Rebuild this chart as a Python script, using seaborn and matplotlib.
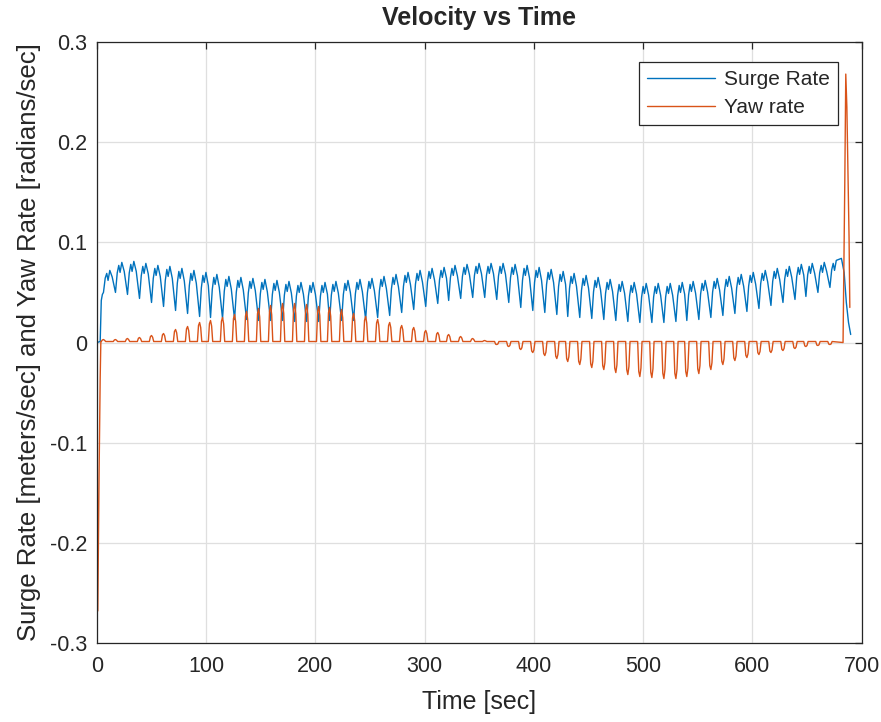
import numpy as np
import pandas as pd
import matplotlib
matplotlib.use("Agg")
import matplotlib.pyplot as plt
import seaborn as sns

# ---- data ----
# times (s) of the surge troughs of each oscillation cycle
cycle_time = [6, 17, 28, 39, 50, 61, 72, 83, 94, 104,
              115, 126, 137, 148, 159, 170, 181, 192, 203, 213,
              224, 235, 246, 257, 268, 279, 290, 301, 312, 322,
              333, 344, 355, 366, 377, 388, 399, 410, 421, 431,
              442, 453, 464, 475, 486, 497, 508, 519, 530, 540,
              551, 562, 573, 584, 595, 606, 617, 628, 639, 649,
              660, 671]
surge_peak = [0.072, 0.080, 0.081, 0.079, 0.077, 0.076, 0.074, 0.072, 0.070, 0.068,
              0.066, 0.065, 0.064, 0.063, 0.062, 0.061, 0.060, 0.060, 0.060, 0.061,
              0.062, 0.063, 0.064, 0.066, 0.068, 0.070, 0.072, 0.074, 0.075, 0.077,
              0.078, 0.079, 0.079, 0.079, 0.078, 0.077, 0.075, 0.073, 0.071, 0.069,
              0.067, 0.065, 0.063, 0.061, 0.060, 0.059, 0.059, 0.059, 0.060, 0.061,
              0.062, 0.064, 0.066, 0.068, 0.070, 0.072, 0.074, 0.076, 0.078, 0.079,
              0.080, 0.082]
surge_trough = [0.050, 0.050, 0.048, 0.044, 0.040, 0.036, 0.032, 0.029, 0.026, 0.025,
                0.024, 0.023, 0.023, 0.022, 0.022, 0.022, 0.021, 0.021, 0.021, 0.022,
                0.022, 0.022, 0.023, 0.025, 0.027, 0.030, 0.033, 0.036, 0.039, 0.042,
                0.044, 0.045, 0.045, 0.043, 0.040, 0.035, 0.032, 0.030, 0.028, 0.026,
                0.025, 0.024, 0.023, 0.022, 0.021, 0.020, 0.020, 0.020, 0.021, 0.022,
                0.023, 0.025, 0.027, 0.029, 0.031, 0.034, 0.037, 0.040, 0.043, 0.046,
                0.050, 0.055]
yaw_pulse = [0.003, 0.003, 0.004, 0.005, 0.007, 0.009, 0.013, 0.016, 0.020, 0.022,
             0.025, 0.028, 0.031, 0.034, 0.037, 0.039, 0.039, 0.038, 0.036, 0.035,
             0.033, 0.029, 0.026, 0.023, 0.020, 0.017, 0.015, 0.012, 0.010, 0.008,
             0.006, 0.004, 0.002, -0.002, -0.004, -0.007, -0.010, -0.013, -0.016, -0.019,
             -0.022, -0.025, -0.027, -0.030, -0.032, -0.034, -0.035, -0.036, -0.036, -0.034,
             -0.031, -0.027, -0.022, -0.018, -0.015, -0.012, -0.010, -0.008, -0.006, -0.004,
             -0.003, -0.002]

# start-up transient and final manoeuvre
start_time_surge = [0.0, 3.0, 4.0, 5.0]
start_surge = [0.0, 0.001, 0.042, 0.048]
start_time_yaw = [0.0, 0.8, 2.0, 3.0, 3.6]
start_yaw = [0.0, -0.268, -0.13, -0.035, 0.001]
end_time_surge = [681.5, 684.0, 686.0, 688.0, 690.0]
end_surge = [0.084, 0.070, 0.040, 0.020, 0.008]
end_time_yaw = [683.0, 684.0, 684.6, 685.5, 686.5, 688.5, 689.2]
end_yaw = [0.0, 0.10, 0.16, 0.268, 0.235, 0.105, 0.035]

# ---- build the traces (vertices placed inside each cycle) ----
yaw_base = 0.001
st, sv = list(start_time_surge), list(start_surge)
for k, (t0, a, b) in enumerate(zip(cycle_time, surge_trough, surge_peak)):
    st += [t0, t0 + 1.6, t0 + 3.0, t0 + 4.2, t0 + 5.8]
    sv += [a, a + 0.65 * (b - a), b - 0.003, b - 0.010, b]
    if k < len(cycle_time) - 1:
        st.append(t0 + 8.0)
        sv.append(b - 0.3 * (b - a))
st += end_time_surge
sv += end_surge

yt, yv = list(start_time_yaw), list(start_yaw)
for t0, p in zip(cycle_time, yaw_pulse):
    yt += [t0 - 2.0, t0 - 1.0, t0, t0 + 1.0, t0 + 2.0]
    yv += [yaw_base, 0.85 * p, p, 0.75 * p, yaw_base]
yt += end_time_yaw
yv += end_yaw

df_s = pd.DataFrame({"t": st, "v": sv})
df_y = pd.DataFrame({"t": yt, "v": yv})

# ---- figure ----
sns.set_theme(style="white")
plt.rcParams["font.family"] = ["Liberation Sans", "DejaVu Sans"]
fig = plt.figure(figsize=(8.81, 7.22), dpi=100)
ax = fig.add_axes([0.110, 0.1094, 0.868, 0.8324])

blue = "#0072BD"
orange = "#D95319"
sns.lineplot(data=df_s, x="t", y="v", ax=ax, color=blue, lw=1.0,
             sort=False, estimator=None, label="Surge Rate")
sns.lineplot(data=df_y, x="t", y="v", ax=ax, color=orange, lw=1.0,
             sort=False, estimator=None, label="Yaw rate")

xticks = [0, 100, 200, 300, 400, 500, 600, 700]
yticks = [-0.3, -0.2, -0.1, 0, 0.1, 0.2, 0.3]
ytick_labels = ["-0.3", "-0.2", "-0.1", "0", "0.1", "0.2", "0.3"]
ax.set_xlim(0, 700)
ax.set_ylim(-0.3, 0.3)
ax.set_xticks(xticks)
ax.set_xticklabels([str(x) for x in xticks])
ax.set_yticks(yticks)
ax.set_yticklabels(ytick_labels)
ax.grid(True, color="#DFDFDF", lw=0.9)
ax.set_axisbelow(True)
for s in ax.spines.values():
    s.set_color("#262626")
    s.set_linewidth(0.9)
ax.tick_params(direction="in", length=5, width=0.9, colors="#262626",
               labelsize=15.5, top=True, right=True, pad=7)
ax.tick_params(axis="x", pad=9)
ax.set_xlabel("Time [sec]", fontsize=18, color="#262626", labelpad=10)
ax.set_ylabel("Surge Rate [meters/sec] and Yaw Rate [radians/sec]",
              fontsize=18.5, color="#262626", labelpad=6)
ax.set_title("Velocity vs Time", fontsize=18, fontweight="bold", pad=12)

leg = ax.legend(loc="upper right", bbox_to_anchor=(0.9685, 0.966), fontsize=15,
                frameon=True, fancybox=False, framealpha=1, edgecolor="#262626",
                handlelength=3.3, borderpad=0.38, labelspacing=0.42,
                handletextpad=0.4, borderaxespad=0.0)
leg.get_frame().set_linewidth(0.9)

fig.savefig("out.png", dpi=100)
